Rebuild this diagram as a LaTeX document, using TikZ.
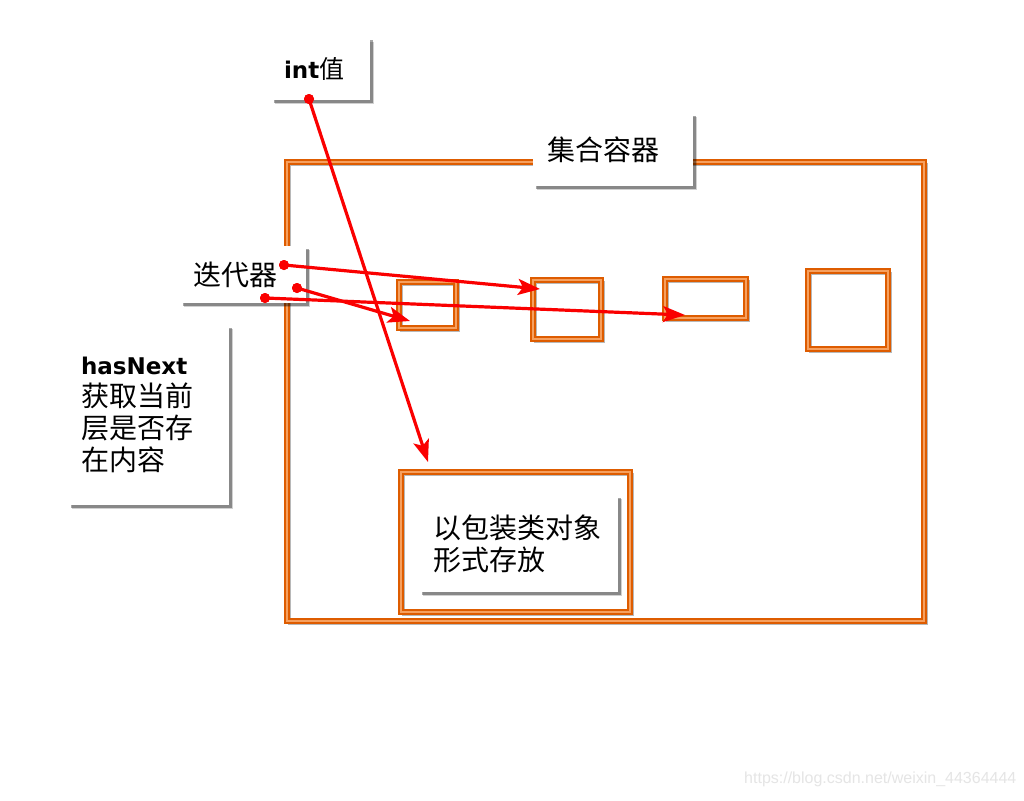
\documentclass[tikz,border=0pt]{standalone}
\usepackage{fontspec}
\setmainfont{Noto Sans CJK SC}
\newfontfamily\latb{DejaVu Sans}
\newfontfamily\wmfont{Liberation Sans}
\usetikzlibrary{arrows.meta,shadows,backgrounds}
\definecolor{org}{RGB}{222,92,0}
\definecolor{orgl}{RGB}{246,160,95}
\definecolor{arrc}{RGB}{250,0,0}
\tikzset{
  txtbox/.style={draw=none, fill=white, inner sep=0pt, outer sep=0pt, align=left,
    drop shadow={shadow xshift=4pt, shadow yshift=-4pt, fill=black, opacity=.18},
    drop shadow={shadow xshift=2.5pt, shadow yshift=-2.5pt, fill=black, opacity=.35}},
  obox/.style={draw=org, line width=2pt, double=orgl, double distance=1.1pt, inner sep=0pt, outer sep=0pt},
  shline/.style={draw=black, opacity=.28, line width=3.5pt},
  arrline/.style={draw=arrc, line width=3.2pt, -{Stealth[length=22pt,width=16pt,inset=5pt]}},
  dotn/.style={circle, fill=arrc, inner sep=0pt, minimum size=10pt},
  cjkf/.style={font=\fontsize{28}{32}\selectfont},
}
\begin{document}
\begin{tikzpicture}[x=1pt,y=-1pt]
\useasboundingbox (0,0) rectangle (1024,800);

% container and boxes
\node[obox, minimum width=637, minimum height=459] (cont) at (605.5,391.5) {};
\node[obox, minimum width=57, minimum height=46] (ba) at (427.5,305) {};
\node[obox, minimum width=68, minimum height=59] (bb) at (567,309.5) {};
\node[obox, minimum width=81, minimum height=39] (bc) at (705.5,298.5) {};
\node[obox, minimum width=80, minimum height=78] (bd) at (848,310) {};
\node[obox, minimum width=229, minimum height=140] (be) at (515.5,542) {};

\begin{scope}[on background layer]
\fill[white] (0,0) rectangle (1024,800);
\foreach \n in {cont,ba,bb,bc,bd,be}
  \draw[shline] ([shift={(2.5,2.5)}]\n.north west) rectangle ([shift={(2.5,2.5)}]\n.south east);
\end{scope}

% text boxes
\node[txtbox, minimum width=99, minimum height=62, text width=73] (intv) at (320.5,69)
  {{\latb\bfseries\fontsize{23}{28}\selectfont int}{\fontsize{25}{28}\selectfont 值}};
\node[txtbox, cjkf, minimum width=160, minimum height=73, text width=132] (jh) at (613,149.5) {集合容器};
\node[txtbox, cjkf, minimum width=126, minimum height=57, text width=100] (ddq) at (243,274.5) {迭代器};
\node[txtbox, cjkf, minimum width=161, minimum height=180, text width=135] (hn) at (148.5,415)
  {{\latb\bfseries\fontsize{23}{32}\selectfont hasNext}\\获取当前\\层是否存\\在内容};
\node[txtbox, cjkf, minimum width=199, minimum height=97, text width=171] (wrap) at (518.5,543.5)
  {以包装类对象\\形式存放};

% dots and targets
\node[dotn] (d0) at (309,99) {};
\node[dotn] (d1) at (284,265) {};
\node[dotn] (d2) at (297,288) {};
\node[dotn] (d3) at (265,298) {};
\coordinate (t0) at (428,462);
\coordinate (t1) at (540,289);
\coordinate (t2) at (410,321);
\coordinate (t3) at (685,315);

\draw[arrline] (d0.center) -- (t0);
\draw[arrline] (d1.center) -- (t1);
\draw[arrline] (d2.center) -- (t2);
\draw[arrline] (d3.center) -- (t3);
\node[dotn] at (d0) {};
\node[dotn] at (d1) {};
\node[dotn] at (d2) {};
\node[dotn] at (d3) {};

\node[font=\wmfont\fontsize{16}{16}\selectfont, text=black!10, anchor=west, inner sep=0pt] (wm) at (744,779)
  {https://blog.csdn.net/weixin\_44364444};
\end{tikzpicture}
\end{document}
